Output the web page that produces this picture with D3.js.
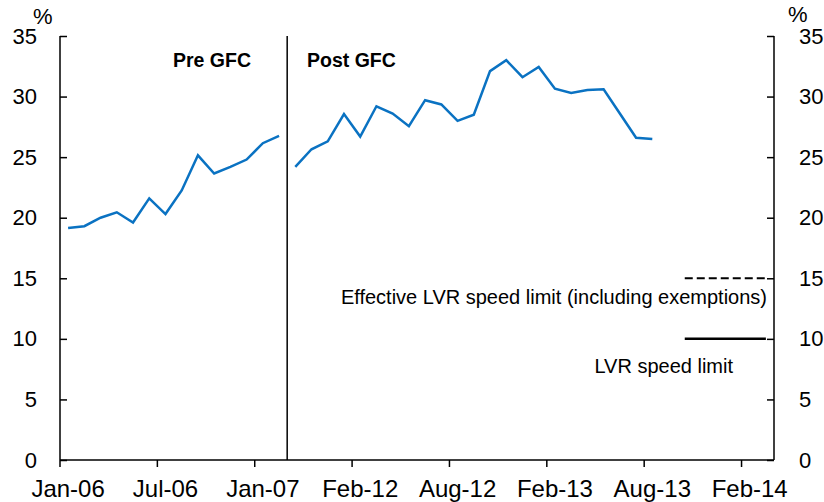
<!DOCTYPE html>
<html>
<head>
<meta charset="utf-8">
<script src="https://cdn.jsdelivr.net/npm/d3@7"></script>
<style>
  body { margin: 0; background: #fff; }
  svg { display: block; font-family: "Liberation Sans", Arial, sans-serif; }
</style>
</head>
<body>
<svg id="chart" width="824" height="502"></svg>
<script>
// months shown on the x axis (pre GFC block, then post GFC block)
const preMonths = ['Jan-06','Feb-06','Mar-06','Apr-06','May-06','Jun-06','Jul-06','Aug-06','Sep-06','Oct-06','Nov-06','Dec-06','Jan-07','Feb-07'];
const postMonths = ['Oct-11','Nov-11','Dec-11','Jan-12','Feb-12','Mar-12','Apr-12','May-12','Jun-12','Jul-12','Aug-12','Sep-12','Oct-12','Nov-12','Dec-12',
	'Jan-13','Feb-13','Mar-13','Apr-13','May-13','Jun-13','Jul-13','Aug-13','Sep-13','Oct-13','Nov-13','Dec-13','Jan-14','Feb-14','Mar-14'];

// share of lending, %
const preValues = [19.15, 19.3, 20.0, 20.45, 19.6, 21.6, 20.3, 22.25, 25.15, 23.65, 24.2, 24.8, 26.15, 26.75];
const postValues = [24.2, 25.65, 26.3, 28.55, 26.7, 29.2, 28.6, 27.55, 29.7, 29.35, 28.0, 28.5,
	32.1, 33.0, 31.6, 32.45, 30.65, 30.3, 30.55, 30.6, 28.6, 26.6, 26.5];

const limitMonths = ['Oct-13','Nov-13','Dec-13','Jan-14','Feb-14','Mar-14'];
const speedLimit = [10, 10, 10, 10, 10, 10];
const effectiveLimit = [15, 15, 15, 15, 15, 15];

const xTickLabels = ['Jan-06','Jul-06','Jan-07','Feb-12','Aug-12','Feb-13','Aug-13','Feb-14'];
const yTicks = [0, 5, 10, 15, 20, 25, 30, 35];

const svg = d3.select('#chart');
const pLeft = 60, pRight = 774, pTop = 36, pBottom = 460;

let x = d3.scaleBand()
	.domain(preMonths.concat(postMonths))
	.range([pLeft, pRight])
	.paddingInner(0)
	.paddingOuter(0);
let bw = x.bandwidth();

let y = d3.scaleLinear()
	.domain([0, 35])
	.range([pBottom, pTop]);

let line = d3.line()
	.x(d => x(d[0]) + bw / 2)
	.y(d => y(d[1]));

// left axis
let yl = svg.append('g')
	.attr('transform', 'translate(' + pLeft + ',0)')
	.call(d3.axisLeft(y).tickValues(yTicks).tickSize(-7).tickPadding(23));
// right axis
let yr = svg.append('g')
	.attr('transform', 'translate(' + pRight + ',0)')
	.call(d3.axisRight(y).tickValues(yTicks).tickSize(-7).tickPadding(25));

[yl, yr].forEach(function(g) {
	g.select('.domain').remove();
	g.selectAll('line').attr('stroke', '#000').attr('stroke-width', 1.5);
	g.selectAll('text').attr('font-size', 22).attr('font-family', null).attr('fill', '#000');
});

svg.append('line')
	.attr('x1', pLeft).attr('x2', pLeft).attr('y1', pTop).attr('y2', pBottom)
	.attr('stroke', '#000').attr('stroke-width', 1.5);
svg.append('line')
	.attr('x1', pRight).attr('x2', pRight).attr('y1', pTop).attr('y2', pBottom)
	.attr('stroke', '#000').attr('stroke-width', 1.5);

// bottom axis: ticks on the band starts, labels on the band centres
svg.append('line')
	.attr('x1', pLeft).attr('x2', pRight).attr('y1', pBottom).attr('y2', pBottom)
	.attr('stroke', '#000').attr('stroke-width', 1.5);

let xt = svg.append('g').selectAll('g')
	.data(xTickLabels)
	.enter().append('g')
	.attr('transform', d => 'translate(' + x(d) + ',' + pBottom + ')');
xt.append('line').attr('y2', 7).attr('stroke', '#000').attr('stroke-width', 1.5);
xt.append('text')
	.attr('x', bw / 2)
	.attr('y', 37)
	.attr('text-anchor', 'middle')
	.attr('font-size', 24)
	.text(d => d);

// % units
svg.append('text').attr('x', 33).attr('y', 24).attr('font-size', 22).text('%');
svg.append('text').attr('x', 788).attr('y', 22).attr('font-size', 22).text('%');

// pre / post GFC divider
svg.append('line')
	.attr('x1', x(postMonths[0])).attr('x2', x(postMonths[0]))
	.attr('y1', pTop).attr('y2', pBottom)
	.attr('stroke', '#000').attr('stroke-width', 1.5);

svg.append('text').attr('x', 173).attr('y', 67)
	.attr('font-size', 19.5).attr('font-weight', 'bold').text('Pre GFC');
svg.append('text').attr('x', 307).attr('y', 67)
	.attr('font-size', 19.5).attr('font-weight', 'bold').text('Post GFC');

// series
svg.append('path')
	.datum(preMonths.map((m, i) => [m, preValues[i]]))
	.attr('fill', 'none').attr('stroke', '#0a72c2').attr('stroke-width', 2.5)
	.attr('d', line);
svg.append('path')
	.datum(postValues.map((v, i) => [postMonths[i], v]))
	.attr('fill', 'none').attr('stroke', '#0a72c2').attr('stroke-width', 2.5)
	.attr('d', line);

svg.append('path')
	.datum(limitMonths.map((m, i) => [m, effectiveLimit[i]]))
	.attr('fill', 'none').attr('stroke', '#000').attr('stroke-width', 2)
	.attr('stroke-dasharray', '8,4')
	.attr('d', line);
svg.append('path')
	.datum(limitMonths.map((m, i) => [m, speedLimit[i]]))
	.attr('fill', 'none').attr('stroke', '#000').attr('stroke-width', 2.5)
	.attr('d', line);

svg.append('text')
	.attr('x', 767).attr('y', y(15) + 26)
	.attr('text-anchor', 'end').attr('font-size', 20)
	.text('Effective LVR speed limit (including exemptions)');
svg.append('text')
	.attr('x', 733).attr('y', y(10) + 34)
	.attr('text-anchor', 'end').attr('font-size', 20)
	.text('LVR speed limit');
</script>
</body>
</html>
